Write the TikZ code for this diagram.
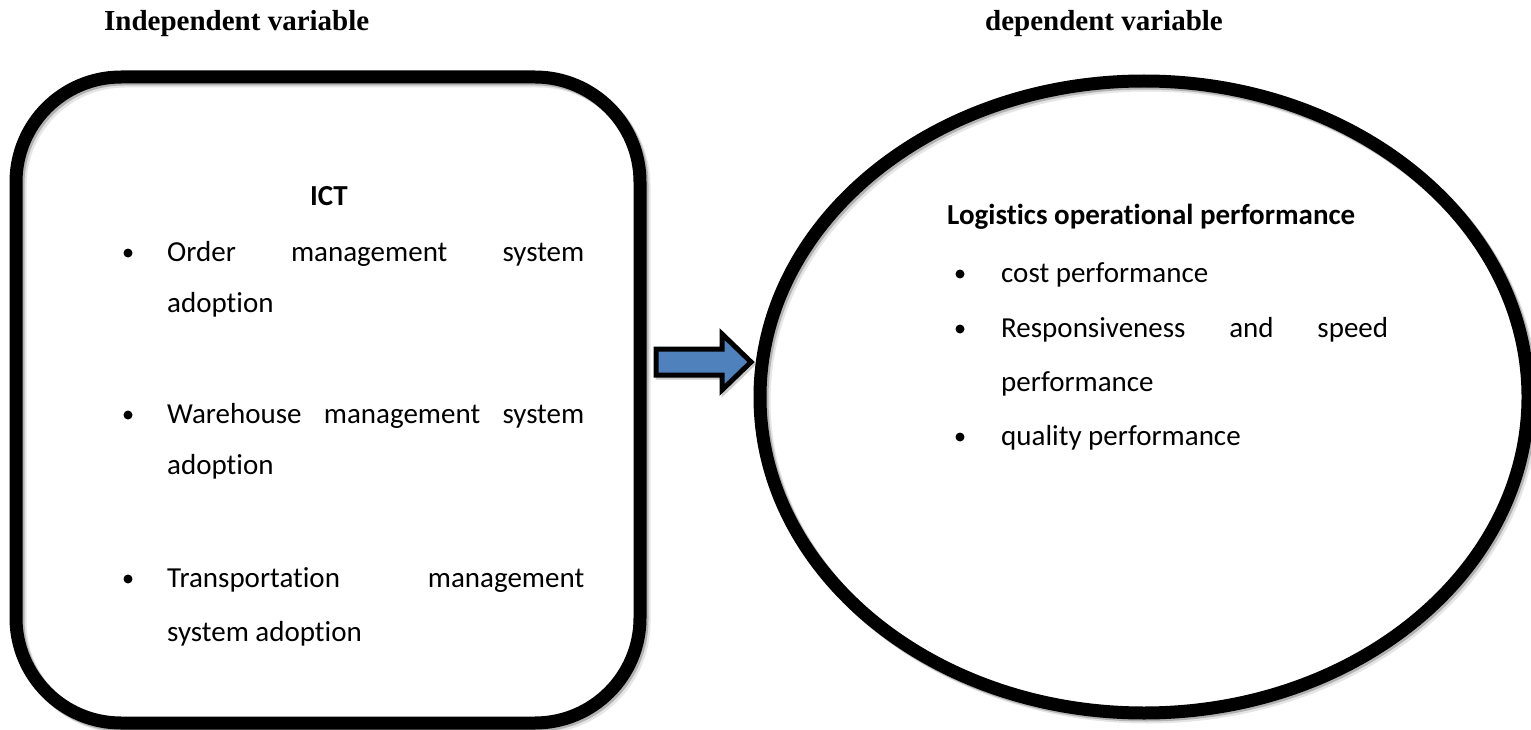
\documentclass[tikz,border=0pt]{standalone}
\usepackage{fontspec}
\setmainfont{Liberation Serif}
\newfontfamily\calib[Ligatures={NoCommon}]{Carlito}
\begin{document}
\begin{tikzpicture}[x=1pt,y=-1pt,
  head/.style={font=\bfseries\fontsize{29}{34}\selectfont, anchor=base west, inner sep=0},
  body/.style={font=\calib\fontsize{29}{34}\selectfont, anchor=base west, inner sep=0},
  bodyb/.style={font=\calib\bfseries\fontsize{29}{34}\selectfont, anchor=base west, inner sep=0},
  bul/.style={circle, fill=black, inner sep=0, minimum size=9},
  frame/.style={line width=13},
  shade1/.style={line width=13, draw=black, opacity=0.22},
  shade2/.style={line width=13, draw=black, opacity=0.10}]
\definecolor{arrowblue}{RGB}{79,129,189}
\useasboundingbox (0,0) rectangle (1531,730);
\fill[white] (0,0) rectangle (1531,730);

% headings
\node[head] (indep) at (104,31) {Independent variable};
\node[head] (dep) at (985,31) {dependent variable};

% rounded box with shadow
\draw[shade2, rounded corners=105, shift={(4,4)}] (16,77) rectangle (640,723);
\draw[shade1, rounded corners=105, shift={(2,2)}] (16,77) rectangle (640,723);
\draw[frame, rounded corners=105] (16,77) rectangle (640,723);

% ellipse with shadow
\draw[shade2] (1148,401) ellipse [x radius=384, y radius=316];
\draw[shade1] (1146,399) ellipse [x radius=384, y radius=316];
\draw[frame] (1144,397) ellipse [x radius=384, y radius=316];

% block arrow
\draw[black, opacity=0.2, line width=5, shift={(2,2)}] (656,349) -- (722,349) -- (722,334) -- (751,362) -- (722,390) -- (722,375) -- (656,375) -- cycle;
\draw[line width=5, fill=arrowblue, line join=miter] (656,349) -- (722,349) -- (722,334) -- (751,362) -- (722,390) -- (722,375) -- (656,375) -- cycle;

% left box text
\node[bodyb] (ict) at (310,206) {ICT};
\node[bul] (b1) at (128,253) {};
\node[body] (l1) at (167,261) {\hbox to 417pt{Order\hfill management\hfill system}};
\node[body] (l2) at (167,312) {adoption};
\node[bul] (b2) at (128,415) {};
\node[body] (l3) at (167,423) {\hbox to 417pt{Warehouse\hfill management\hfill system}};
\node[body] (l4) at (167,474) {adoption};
\node[bul] (b3) at (128,579) {};
\node[body] (l5) at (167,587) {\hbox to 417pt{Transportation\hfill management}};
\node[body] (l6) at (167,641) {system adoption};

% right ellipse text
\node[bodyb] (lop) at (947,225) {Logistics operational performance};
\node[bul] (c1) at (960,274) {};
\node[body] (r1) at (1001,282) {cost performance};
\node[bul] (c2) at (960,329) {};
\node[body] (r2) at (1001,337) {\hbox to 387pt{Responsiveness\hfill and\hfill speed}};
\node[body] (r3) at (1001,391) {performance};
\node[bul] (c3) at (960,437) {};
\node[body] (r4) at (1001,445) {quality performance};
\end{tikzpicture}
\end{document}
